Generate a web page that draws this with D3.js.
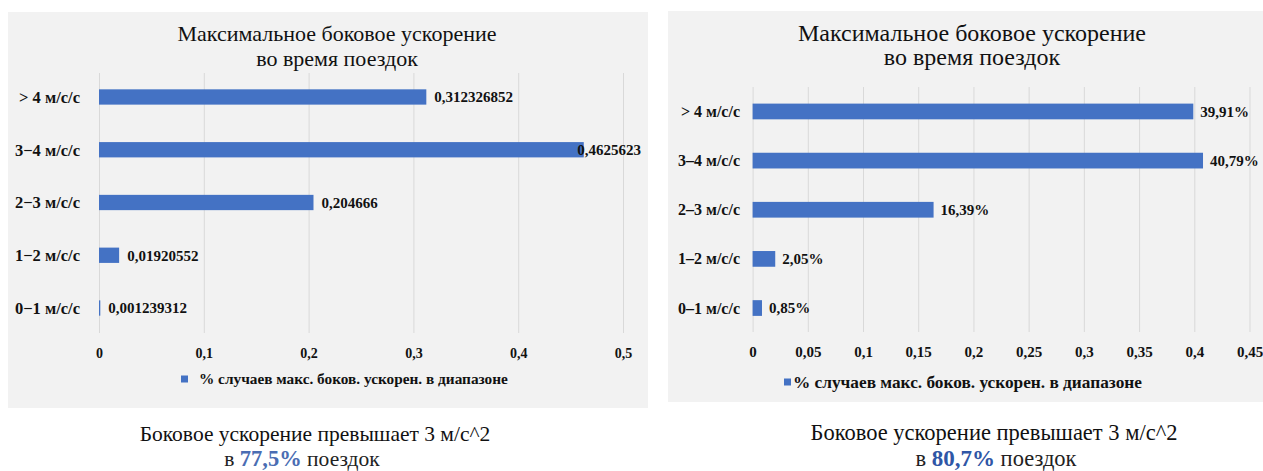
<!DOCTYPE html>
<html><head><meta charset="utf-8">
<script src="https://cdn.jsdelivr.net/npm/d3@7"></script>
<style>
body{margin:0;background:#fff}
svg{display:block}
text{font-family:"Liberation Serif","Times New Roman",serif;fill:#111}
</style>
</head><body>
<svg id="chart" width="1263" height="471"></svg>
<script>
// ---- data ----
const titleLines = ["Максимальное боковое ускорение", "во время поездок"];
const legendLabel = "% случаев макс. боков. ускорен. в диапазоне";
const captionLine1 = "Боковое ускорение превышает 3 м/с^2";
const captionPre = "в ";
const captionPost = " поездок";

const leftCategories = ["> 4 м/с/с", "3−4 м/с/с", "2−3 м/с/с", "1−2 м/с/с", "0−1 м/с/с"];
const leftValues = [0.312326852, 0.4625623, 0.204666, 0.01920552, 0.001239312];
const leftValueLabels = ["0,312326852", "0,4625623", "0,204666", "0,01920552", "0,001239312"];
const leftTicks = [0, 0.1, 0.2, 0.3, 0.4, 0.5];
const leftTickLabels = ["0", "0,1", "0,2", "0,3", "0,4", "0,5"];
const leftHighlight = "77,5%";

const rightCategories = ["> 4 м/с/с", "3–4 м/с/с", "2–3 м/с/с", "1–2 м/с/с", "0–1 м/с/с"];
const rightValues = [0.3991, 0.4079, 0.1639, 0.0205, 0.0085];
const rightValueLabels = ["39,91%", "40,79%", "16,39%", "2,05%", "0,85%"];
const rightTicks = [0, 0.05, 0.1, 0.15, 0.2, 0.25, 0.3, 0.35, 0.4, 0.45];
const rightTickLabels = ["0", "0,05", "0,1", "0,15", "0,2", "0,25", "0,3", "0,35", "0,4", "0,45"];
const rightHighlight = "80,7%";

// ---- layout ----
const svg = d3.select("#chart");
const BAR = "#4472c4";

function drawPanel(c) {
  const g = svg.append("g");
  g.append("rect").attr("x", c.px).attr("y", c.py).attr("width", c.pw).attr("height", c.ph).attr("fill", "#f2f2f2");

  g.selectAll("text.title").data(titleLines).join("text").attr("class", "title")
    .attr("x", c.titleX).attr("y", (d, i) => c.titleY[i]).attr("dy", "0.35em")
    .attr("text-anchor", "middle").style("font-size", c.titleSize + "px").text(d => d);

  const x = d3.scaleLinear().domain([0, c.max]).range([c.x0, c.x1]);
  const y = d3.scaleBand().domain(c.categories).range([c.yTop, c.yBot])
    .paddingInner(c.pad).paddingOuter(c.pad / 2);

  // gridlines
  const grid = g.append("g").attr("transform", `translate(0,${c.gridBot})`)
    .call(d3.axisBottom(x).tickValues(c.ticks).tickSize(-(c.gridBot - c.gridTop)).tickFormat(""));
  grid.select(".domain").remove();
  grid.selectAll("line").attr("stroke", "#d9d9d9").attr("stroke-width", 1);

  // tick labels
  const tl = g.append("g").attr("transform", `translate(0,${c.tickY})`)
    .call(d3.axisBottom(x).tickValues(c.ticks).tickSize(0).tickFormat((d, i) => c.tickLabels[i]));
  tl.select(".domain").remove();
  tl.selectAll("text").attr("y", 0).attr("dy", "0.35em")
    .style("font-size", c.tickSize + "px").style("font-weight", "bold").style("font-family", null).attr("fill", "#111");

  // category labels
  const cl = g.append("g").attr("transform", `translate(${c.catX},0)`)
    .call(d3.axisLeft(y).tickSize(0).tickPadding(0));
  cl.select(".domain").remove();
  cl.selectAll("text").attr("dy", "0.35em")
    .style("font-size", c.catSize + "px").style("font-weight", "bold").style("font-family", null).attr("fill", "#111");

  // bars
  g.selectAll("rect.bar").data(c.values).join("rect").attr("class", "bar")
    .attr("x", x(0)).attr("y", (d, i) => y(c.categories[i]))
    .attr("width", d => x(d) - x(0)).attr("height", y.bandwidth())
    .attr("fill", BAR);

  // value labels
  g.selectAll("text.val").data(c.values).join("text").attr("class", "val")
    .attr("y", (d, i) => y(c.categories[i]) + y.bandwidth() / 2).attr("dy", "0.35em")
    .style("font-size", c.valSize + "px").style("font-weight", "bold")
    .text((d, i) => c.valueLabels[i])
    .each(function (d) {
      const w = this.getComputedTextLength();
      this.setAttribute("x", Math.min(x(d) + c.valGap, c.valMaxRight - w));
    });

  // legend
  g.append("rect").attr("x", c.legSqX).attr("y", c.legY - 3.5).attr("width", 7).attr("height", 7).attr("fill", BAR);
  g.append("text").attr("x", c.legTextX).attr("y", c.legY).attr("dy", "0.35em")
    .style("font-size", c.legSize + "px").style("font-weight", "bold").text(legendLabel);

  // caption
  g.append("text").attr("x", c.capX1).attr("y", c.capY1).attr("dy", "0.35em").attr("text-anchor", "middle")
    .style("font-size", c.capSize + "px").attr("fill", "#222").text(captionLine1);
  const t2 = g.append("text").attr("x", c.capX2).attr("y", c.capY2).attr("dy", "0.35em").attr("text-anchor", "middle")
    .style("font-size", c.capSize + "px");
  t2.append("tspan").text(captionPre).attr("fill", "#222");
  t2.append("tspan").text(c.highlight).style("font-weight", "bold").style("font-size", c.hlSize + "px").attr("fill", c.hlColor);
  t2.append("tspan").text(captionPost).attr("fill", "#222");
}

drawPanel({
  px: 8, py: 12, pw: 640, ph: 396,
  titleX: 337, titleY: [33, 58], titleSize: 22,
  categories: leftCategories, values: leftValues, valueLabels: leftValueLabels,
  ticks: leftTicks, tickLabels: leftTickLabels, max: 0.5,
  x0: 99, x1: 623, yTop: 70.6, yBot: 334.4, pad: 0.71,
  gridTop: 73, gridBot: 333, tickY: 353, tickSize: 14,
  catX: 80, catSize: 16.5, valSize: 15, valGap: 8, valMaxRight: 641,
  legSqX: 181, legTextX: 199, legY: 379, legSize: 15.3,
  capX1: 315, capY1: 433, capX2: 302, capY2: 458, capSize: 21.5, hlSize: 22.5, hlColor: "#4a6db3",
  highlight: leftHighlight
});

drawPanel({
  px: 668, py: 11, pw: 595, ph: 391,
  titleX: 972, titleY: [33, 57], titleSize: 24,
  categories: rightCategories, values: rightValues, valueLabels: rightValueLabels,
  ticks: rightTicks, tickLabels: rightTickLabels, max: 0.45,
  x0: 752.6, x1: 1249.5, yTop: 86.9, yBot: 332.6, pad: 0.68,
  gridTop: 87, gridBot: 332, tickY: 352, tickSize: 15,
  catX: 740, catSize: 16, valSize: 15, valGap: 7, valMaxRight: 1262,
  legSqX: 784, legTextX: 793, legY: 382, legSize: 17.3,
  capX1: 994, capY1: 432.5, capX2: 996, capY2: 458, capSize: 22.5, hlSize: 23, hlColor: "#2f56a6",
  highlight: rightHighlight
});
</script>
</body></html>
